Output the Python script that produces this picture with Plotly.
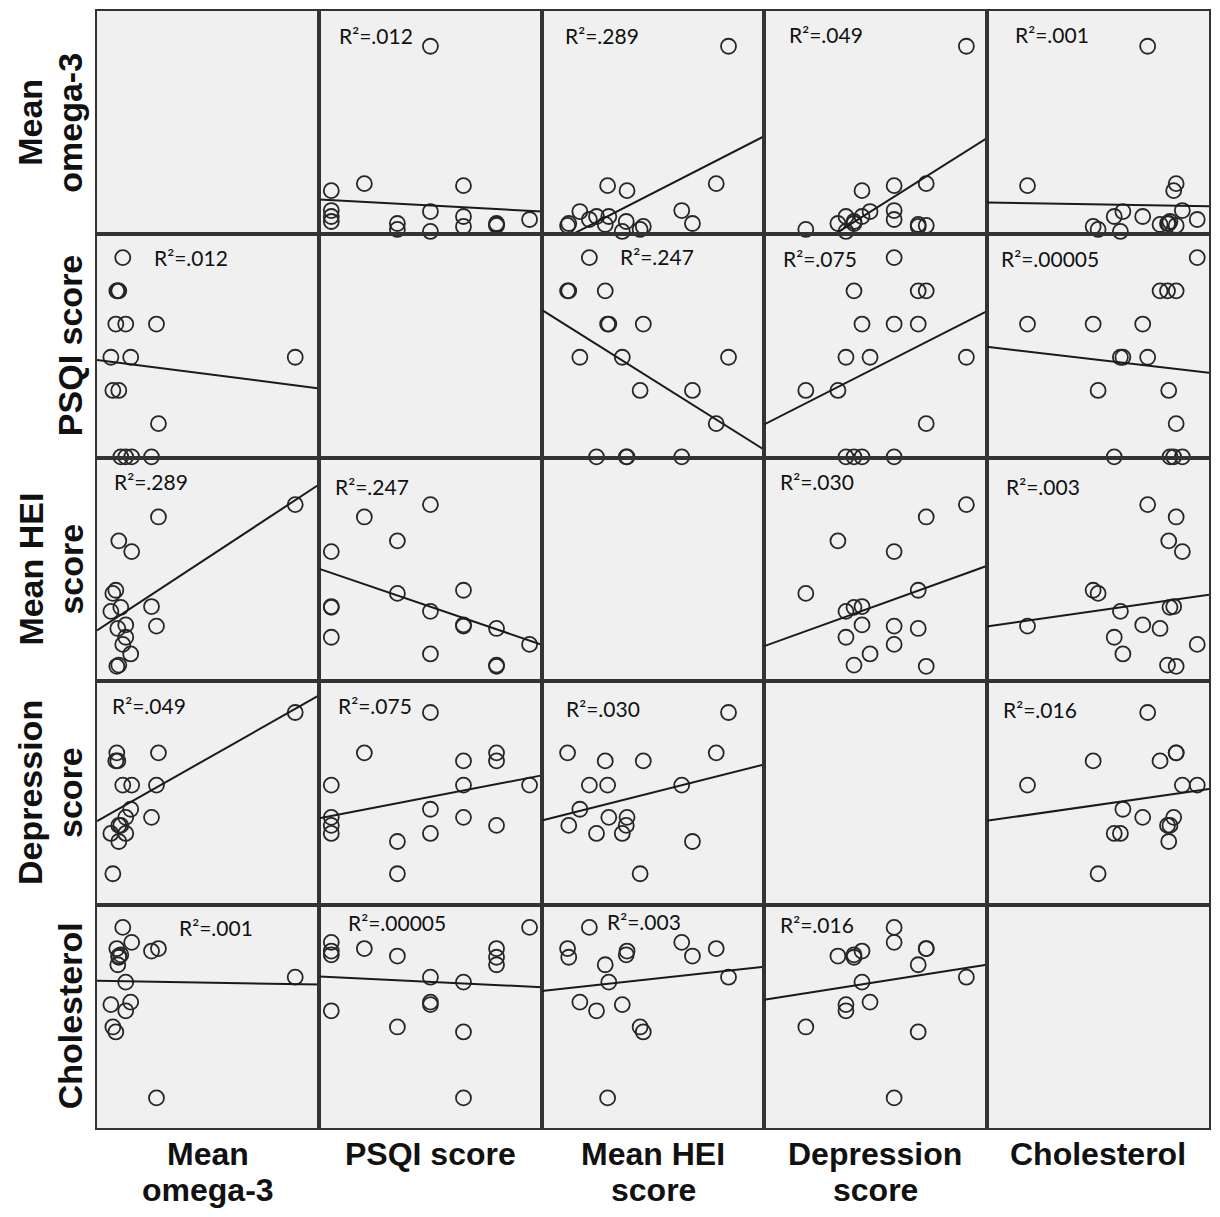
import numpy as np
import plotly.graph_objects as go
from plotly.subplots import make_subplots

# ---------------- data (17 subjects) ----------------
VAR_LABELS = ["Mean<br>omega-3", "PSQI score", "Mean HEI<br>score", "Depression<br>score", "Cholesterol"]

omega3 = [0.26, 0.21, 0.22, 0.20, 0.60, 0.29, 0.19, 2.00, 0.34, 0.14, 0.22, 0.16, 0.62, 0.55, 0.35, 0.29, 0.24]
psqi = [9, 8, 8, 8, 7, 7, 7, 6, 6, 6, 5, 5, 4, 3, 3, 3, 3]
hei = [47.0, 51.0, 41.8, 41.5, 51.6, 51.9, 60.6, 82.1, 44.6, 55.3, 73.0, 59.8, 79.0, 56.5, 70.3, 48.8, 56.3]
depression = [13, 16, 8, 17, 13, 9, 16, 22, 10, 7, 6, 2, 17, 9, 13, 7, 8]
cholesterol = [270, 240, 246, 253, 133, 226, 186, 230, 210, 208, 247, 190, 253, 251, 258, 203, 248]

R2_LABELS = [
    [None, ".012", ".289", ".049", ".001"],
    [".012", None, ".247", ".075", ".00005"],
    [".289", ".247", None, ".030", ".003"],
    [".049", ".075", ".030", None, ".016"],
    [".001", ".00005", ".003", ".016", None],
]

VARS = [omega3, psqi, hei, depression, cholesterol]

# ---------------- style ----------------
PAGE_OFF = 8                      # default body margin of the html page
W, H = 1204, 1200
ML, MR, MT, MB = 89, 1, 1, 80
PW, PH = W - ML - MR, H - MT - MB
N = 5
CW, CH = PW / N, PH / N
GRID_L, GRID_T = ML + PAGE_OFF, MT + PAGE_OFF   # grid position in page pixels

# axis ranges per variable (x direction); y is offset a little downward like the original
AX_RANGE = [(0.0, 2.244), (2.64, 9.37), (35.0, 91.1), (-3.185, 24.52), (100.0, 279.5)]
Y_SHIFT_PX = 11

# R2 label anchors: (offset from cell left, offset of text centre from cell top) in px
R2_POS = {
    (0, 1): (18, 25), (0, 2): (21, 25), (0, 3): (23, 24), (0, 4): (26, 24),
    (1, 0): (55, 23), (1, 2): (76, 22), (1, 3): (17, 24), (1, 4): (12, 24),
    (2, 0): (15, 24), (2, 1): (14, 29), (2, 3): (14, 24), (2, 4): (17, 29),
    (3, 0): (13, 24), (3, 1): (17, 24), (3, 2): (22, 27), (3, 4): (14, 28),
    (4, 0): (80, 23), (4, 1): (27, 18), (4, 2): (63, 17), (4, 3): (14, 20),
}

INK = "#262626"
CELL_BG = "#F0F0F0"
BORDER = "#333333"


def px_x(px):
    return (px - PAGE_OFF - ML) / PW


def px_y(py):
    return 1 - (py - PAGE_OFF - MT) / PH


fig = make_subplots(rows=N, cols=N, horizontal_spacing=0, vertical_spacing=0)

for i in range(N):
    for j in range(N):
        r, c = i + 1, j + 1
        xlo, xhi = AX_RANGE[j]
        ylo, yhi = AX_RANGE[i]
        yspan = yhi - ylo
        dy = yspan * Y_SHIFT_PX / CH
        if i != j:
            x = np.array(VARS[j], dtype=float)
            y = np.array(VARS[i], dtype=float)
            fig.add_trace(go.Scatter(
                x=x, y=y, mode="markers", cliponaxis=False, showlegend=False,
                marker=dict(symbol="circle-open", size=15, color=INK, line=dict(width=1.8, color=INK)),
                hoverinfo="skip"), row=r, col=c)
            slope, icpt = np.polyfit(x, y, 1)
            lx = np.array([xlo, xhi])
            fig.add_trace(go.Scatter(
                x=lx, y=slope * lx + icpt, mode="lines", showlegend=False,
                line=dict(color="#1a1a1a", width=2), hoverinfo="skip"), row=r, col=c)
        else:
            # empty diagonal cell: invisible trace so the panel is drawn
            fig.add_trace(go.Scatter(
                x=[(xlo + xhi) / 2], y=[(ylo + yhi) / 2 + dy], mode="markers",
                marker=dict(opacity=0), showlegend=False, hoverinfo="skip"), row=r, col=c)
        fig.update_xaxes(range=[xlo, xhi], showticklabels=False, ticks="", showgrid=False,
                         zeroline=False, showline=True, mirror=True, linecolor=BORDER,
                         linewidth=2.2, row=r, col=c)
        fig.update_yaxes(range=[ylo + dy, yhi + dy], showticklabels=False, ticks="", showgrid=False,
                         zeroline=False, showline=True, mirror=True, linecolor=BORDER,
                         linewidth=2.2, row=r, col=c)

annotations = []
# R2 labels
for (i, j), (ox, oy) in R2_POS.items():
    lab = R2_LABELS[i][j]
    annotations.append(dict(
        text="R²=" + lab, xref="paper", yref="paper",
        x=px_x(GRID_L + j * CW + ox), y=px_y(GRID_T + i * CH + oy),
        xanchor="left", yanchor="middle", showarrow=False,
        font=dict(family="Lato, Open Sans, sans-serif", size=21, color="#111111")))

BOTTOM_FONT = dict(family="Liberation Sans, Arial, sans-serif", size=32, color="#111111")
LEFT_FONT = dict(family="Liberation Sans, Arial, sans-serif", size=34, color="#111111")
for k, lab in enumerate(VAR_LABELS):
    lines = lab.split("<br>")
    # bottom labels
    cx = GRID_L + (k + 0.5) * CW
    for li, line in enumerate(lines):
        annotations.append(dict(
            text="<b>" + line + "</b>", xref="paper", yref="paper",
            x=px_x(cx), y=px_y(1154 + li * 36), xanchor="center", yanchor="middle",
            showarrow=False, font=BOTTOM_FONT))
    # left labels (rotated)
    cy = GRID_T + (k + 0.5) * CH
    xs = [70] if len(lines) == 1 else [30, 70]
    for li, line in enumerate(lines):
        annotations.append(dict(
            text="<b>" + line + "</b>", xref="paper", yref="paper",
            x=px_x(xs[li]), y=px_y(cy), xanchor="center", yanchor="middle",
            textangle=-90, showarrow=False, font=LEFT_FONT))

fig.update_layout(
    width=W, height=H, margin=dict(l=ML, r=MR, t=MT, b=MB),
    paper_bgcolor="white", plot_bgcolor=CELL_BG, annotations=annotations,
    showlegend=False)

fig.write_html("out.html")
